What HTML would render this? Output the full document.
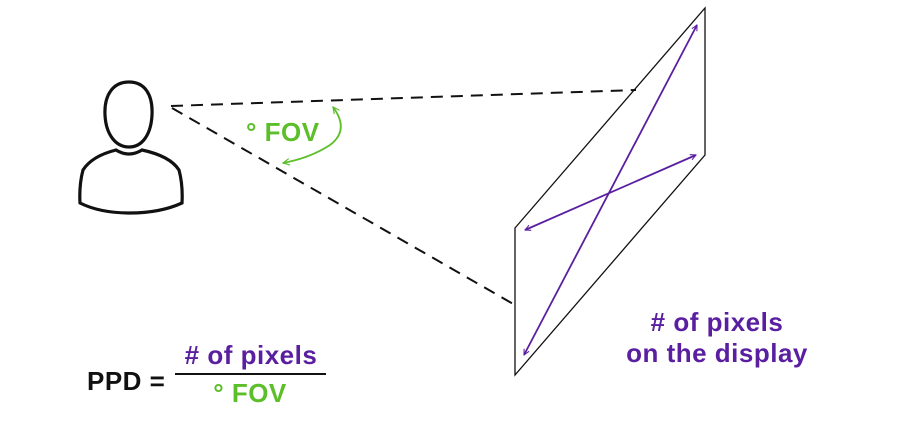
<!DOCTYPE html>
<html><head><style>
html,body{margin:0;padding:0;background:#fff;}
svg{display:block;}
text{font-family:"Liberation Sans",sans-serif;font-weight:bold;letter-spacing:0.5px;}
</style></head><body>
<svg width="900" height="439" viewBox="0 0 900 439" xmlns="http://www.w3.org/2000/svg">
<defs>
<marker id="ap" viewBox="0 0 10 10" refX="9" refY="5" markerWidth="7" markerHeight="7" orient="auto-start-reverse" markerUnits="userSpaceOnUse"><path d="M1,1 L9,5 L1,9" fill="none" stroke="#5a1fa0" stroke-width="1.5"/></marker>
<marker id="ag" viewBox="0 0 10 10" refX="9" refY="5" markerWidth="8" markerHeight="8" orient="auto-start-reverse" markerUnits="userSpaceOnUse"><path d="M1,1 L9,5 L1,9" fill="none" stroke="#5cbf2a" stroke-width="1.5"/></marker>
</defs>
<g fill="none" stroke="#111" stroke-width="3.2">
<path d="M129,82 C145,82 153,95 152,115 C151,135 142,147 129,147 C116,147 106,135 105,115 C104,95 113,82 129,82 Z"/>
<path d="M116,150 Q129,158 142,150 Q170,156 179,170 Q183,185 182,203 Q160,213 130,213 Q100,213 80,203 Q79,185 83,170 Q92,156 116,150 Z"/>
</g>
<g stroke="#111" stroke-width="2" stroke-dasharray="12,8">
<line x1="171" y1="106" x2="636" y2="90"/>
<line x1="172" y1="108" x2="515" y2="305"/>
</g>
<path d="M333,107 Q350,130 330,145 Q310,158 283,163" fill="none" stroke="#5cbf2a" stroke-width="1.8" marker-start="url(#ag)" marker-end="url(#ag)"/>
<text x="246" y="141" font-size="26" fill="#5cbf2a">° FOV</text>
<polygon points="515,228 705,8 705,155 515,375" fill="none" stroke="#111" stroke-width="1.3"/>
<line x1="524" y1="355" x2="697" y2="25" stroke="#5a1fa0" stroke-width="1.8" marker-start="url(#ap)" marker-end="url(#ap)"/>
<line x1="525" y1="230" x2="696" y2="155" stroke="#5a1fa0" stroke-width="1.8" marker-start="url(#ap)" marker-end="url(#ap)"/>
<text x="717" y="331" font-size="26" fill="#5a1fa0" text-anchor="middle"># of pixels</text>
<text x="717" y="362" font-size="26" fill="#5a1fa0" text-anchor="middle">on the display</text>
<text x="87" y="390" font-size="26" fill="#111">PPD =</text>
<line x1="175" y1="374" x2="326" y2="374" stroke="#111" stroke-width="2"/>
<text x="251" y="364" font-size="26" fill="#5a1fa0" text-anchor="middle"># of pixels</text>
<text x="250" y="402" font-size="26" fill="#5cbf2a" text-anchor="middle">° FOV</text>
</svg>
</body></html>
